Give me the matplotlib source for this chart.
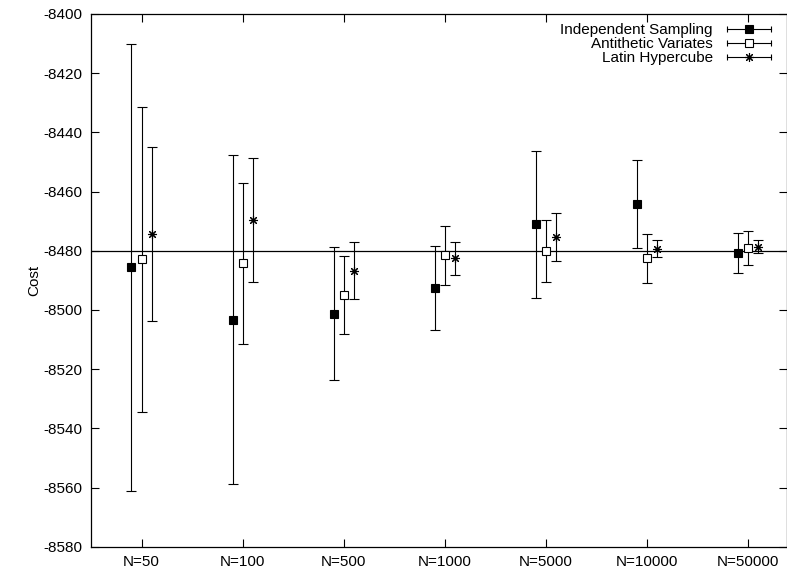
import matplotlib
matplotlib.use("Agg")
import matplotlib.pyplot as plt
from matplotlib.lines import Line2D
from matplotlib.legend_handler import HandlerBase
import numpy as np

plt.rcParams["font.family"] = ["Liberation Sans", "DejaVu Sans"]
plt.rcParams["font.size"] = 11
plt.rcParams["axes.unicode_minus"] = False

categories = ["N=50", "N=100", "N=500", "N=1000", "N=5000", "N=10000", "N=50000"]

indep_mean = [-8485.6, -8503.3, -8501.3, -8492.5, -8471.1, -8464.1, -8480.7]
indep_err = [75.6, 55.5, 22.4, 14.2, 24.8, 14.9, 6.7]

anti_mean = [-8482.9, -8484.3, -8495.0, -8481.6, -8480.1, -8482.6, -8479.0]
anti_err = [51.5, 27.2, 13.1, 10.0, 10.4, 8.2, 5.7]

latin_mean = [-8474.3, -8469.6, -8486.7, -8482.6, -8475.3, -8479.3, -8478.6]
latin_err = [29.4, 21.1, 9.5, 5.5, 8.0, 2.9, 2.2]

reference_cost = -8480

series = [
    ("Independent Sampling", indep_mean, indep_err, "s", "black", 5.8, -0.1),
    ("Antithetic Variates", anti_mean, anti_err, "s", "white", 5.3, 0.0),
    ("Latin Hypercube", latin_mean, latin_err, (8, 2, 0), "black", 6.5, 0.1),
]


class HandlerGnuplot(HandlerBase):
    # gnuplot-style key: horizontal bar with end caps and the point in the middle
    def create_artists(self, legend, orig_handle, xdescent, ydescent,
                       width, height, fontsize, trans):
        y = height / 2 - ydescent
        bar = Line2D([-xdescent, width - xdescent], [y, y], color="black",
                     lw=0.8, marker="|", markersize=5, markeredgewidth=0.8,
                     markevery=[0, 1], transform=trans)
        pt = Line2D([(width - 2 * xdescent) / 2], [y], ls="none",
                    marker=orig_handle.get_marker(),
                    markersize=orig_handle.get_markersize(),
                    markerfacecolor=orig_handle.get_markerfacecolor(),
                    markeredgecolor="black", markeredgewidth=0.8,
                    transform=trans)
        return [bar, pt]


fig = plt.figure(figsize=(7.87, 5.69), dpi=100)
ax = fig.add_axes([0.1156, 0.0392, 0.8838, 0.9362])

x = np.arange(1, len(categories) + 1)

ax.axhline(reference_cost, color="black", lw=0.9, zorder=1)

handles = []
for label, mean, err, marker, face, ms, off in series:
    ax.errorbar(x + off, mean, yerr=err, fmt="none", ecolor="black",
                elinewidth=0.8, capsize=3.5, capthick=0.8, zorder=2)
    pts, = ax.plot(x + off, mean, ls="none", marker=marker, mfc=face,
                   mec="black", mew=0.8, ms=ms, zorder=3, label=label)
    handles.append(pts)

ax.set_xlim(0.5, 7.38)
ax.set_ylim(-8580, -8400)
ax.set_yticks(np.arange(-8580, -8399, 20))
ax.set_xticks(x)
ax.set_xticklabels(categories)
ax.set_ylabel("Cost", labelpad=2)

ax.tick_params(direction="in", length=5.5, width=0.8, top=True, right=True,
               labelsize=11, pad=6)
for sp in ax.spines.values():
    sp.set_linewidth(0.9)

ax.legend(handles, [s[0] for s in series], loc="upper right",
          bbox_to_anchor=(0.992, 1.002),
          handler_map={Line2D: HandlerGnuplot()}, frameon=False,
          markerfirst=False, handlelength=2.9, handletextpad=0.9,
          labelspacing=0.0, borderpad=0, borderaxespad=0.65, fontsize=11)

fig.savefig("out.png", dpi=100)
